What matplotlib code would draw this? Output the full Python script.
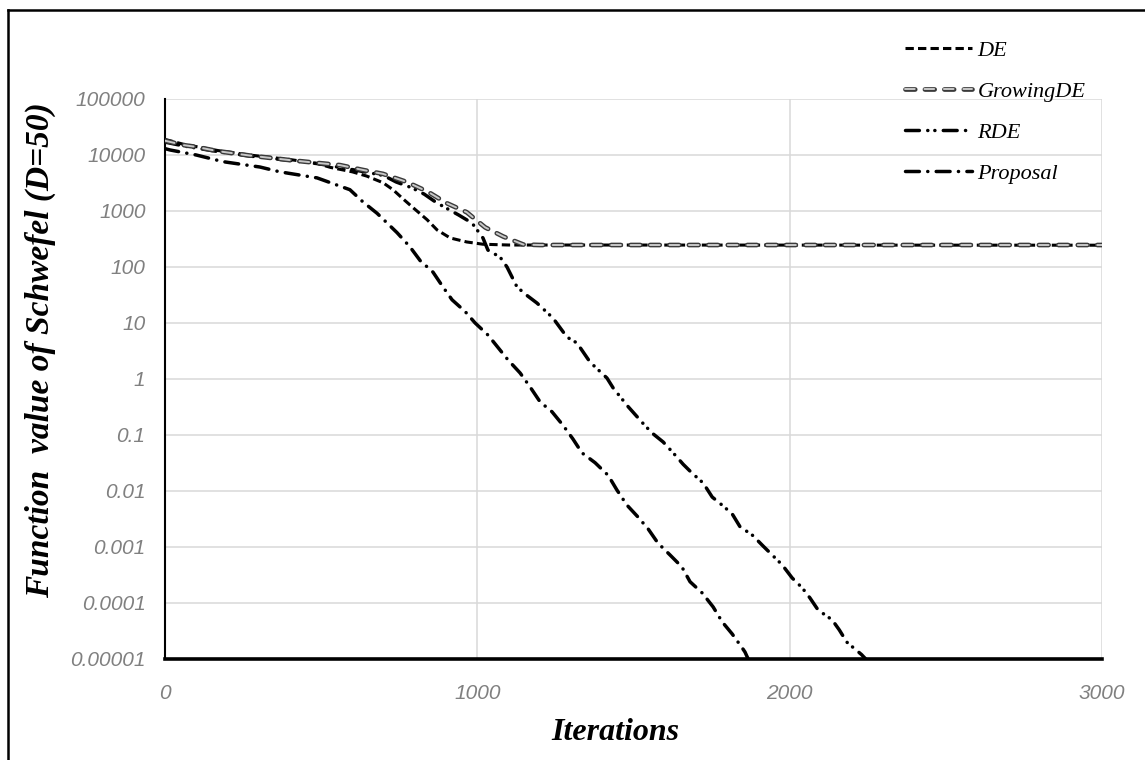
import matplotlib
matplotlib.use("Agg")
import matplotlib.pyplot as plt
import matplotlib.patheffects as pe
from matplotlib.lines import Line2D
from matplotlib.font_manager import FontProperties

plt.rcParams['lines.scale_dashes'] = False

# Iteration / best value
de_it = [0, 60, 170, 270, 400, 490, 530, 600, 646, 698, 730, 762, 794, 839, 871,
         913, 966, 1018, 1100, 3000]
de_val = [19000, 15500, 12000, 10000, 8300, 7000, 6000, 5000, 4200, 3200, 2400,
          1650, 1150, 700, 460, 330, 280, 255, 247, 245]

gde_it = [0, 60, 102, 170, 270, 400, 490, 560, 634, 698, 774, 842, 902, 966,
          1025, 1083, 1147, 1200, 3000]
gde_val = [18000, 15000, 13900, 11700, 9800, 8100, 7200, 6600, 5400, 4600, 3300,
           2200, 1380, 950, 510, 350, 252, 247, 247]

rde_it = [0, 60, 170, 270, 400, 490, 560, 640, 700, 740, 790, 830, 870, 940,
          983, 1018, 1034, 1073, 1095, 1127, 1159, 1191, 1242, 1287, 1319, 1361,
          1415, 1435, 1483, 1531, 1559, 1595, 1627, 1659, 1687, 1723, 1752, 1787,
          1816, 1841, 1880, 1915, 1944, 1976, 2008, 2040, 2065, 2091, 2136, 2159,
          2183, 2230, 2260]
rde_val = [17000, 14500, 11500, 9600, 8000, 7000, 6000, 5000, 4300, 3300, 2600,
           2000, 1400, 850, 610, 330, 200, 150, 100, 44, 31, 22.7, 12.3, 5.6, 4.4,
           2.0, 1.04, 0.69, 0.32, 0.16, 0.109, 0.075, 0.048, 0.030, 0.021, 0.0139,
           0.0078, 0.0054, 0.0039, 0.0023, 0.00164, 0.00104, 0.00072, 0.00048,
           0.00028, 0.000187, 0.000123, 0.000075, 0.00005, 0.000033, 0.00002,
           0.000012, 0.000008]

prop_it = [0, 16, 100, 186, 304, 368, 487, 592, 634, 679, 743, 784, 817, 858,
           890, 919, 961, 993, 1034, 1098, 1137, 1169, 1201, 1239, 1274, 1306,
           1335, 1377, 1419, 1447, 1479, 1515, 1547, 1578, 1617, 1655, 1681, 1720,
           1755, 1784, 1816, 1848, 1857, 1875]
prop_val = [13000, 12300, 10000, 7600, 6100, 5000, 3900, 2400, 1450, 910, 410,
            230, 130, 81, 44, 26, 16, 10, 6.1, 2.2, 1.28, 0.72, 0.39, 0.26, 0.15,
            0.085, 0.048, 0.032, 0.019, 0.0104, 0.0056, 0.0034, 0.0021, 0.00118,
            0.00072, 0.00044, 0.00024, 0.000151, 0.000085, 0.000046, 0.000028,
            0.0000158, 0.0000133, 0.000008]

y_ticks = [1e-5, 1e-4, 1e-3, 1e-2, 1e-1, 1, 10, 100, 1000, 10000, 100000]
y_labels = ['0.00001', '0.0001', '0.001', '0.01', '0.1', '1', '10', '100',
            '1000', '10000', '100000']
x_ticks = [0, 1000, 2000, 3000]

fig = plt.figure(figsize=(11.45, 7.6), dpi=100)
ax = fig.add_axes([165 / 1145, 1 - 659 / 760, (1102 - 165) / 1145, (659 - 99) / 760])

ax.plot(de_it, de_val, color='black', lw=2.2, dashes=(6, 3), label='DE', zorder=3)
ax.plot(gde_it, gde_val, color='#c8c8c8', lw=1.4, dashes=(7, 7),
        dash_capstyle='round', label='GrowingDE', zorder=4,
        path_effects=[pe.Stroke(linewidth=3.4, foreground='#3a3a3a'), pe.Normal()])
ax.plot(rde_it, rde_val, color='black', lw=2.5, dashes=(10, 6, 0.1, 5, 0.1, 6),
        dash_capstyle='round', label='RDE', zorder=3)
ax.plot(prop_it, prop_val, color='black', lw=2.5, dashes=(10, 6, 0.1, 6),
        dash_capstyle='round', label='Proposal', zorder=3)

ax.set_yscale('log')
ax.set_ylim(1e-5, 1e5)
ax.set_xlim(0, 3000)
ax.set_yticks(y_ticks)
ax.set_yticklabels(y_labels)
ax.minorticks_off()
ax.set_xticks(x_ticks)

ax.grid(True, color='#d9d9d9', lw=1.1)
ax.set_axisbelow(True)
for s in ['top', 'right']:
    ax.spines[s].set_visible(False)
ax.spines['left'].set_linewidth(1.5)
ax.spines['bottom'].set_linewidth(2.6)

tick_fp = FontProperties(family=['Liberation Sans', 'DejaVu Sans'], style='italic', size=15)
for lab in ax.get_xticklabels() + ax.get_yticklabels():
    lab.set_fontproperties(tick_fp)
    lab.set_color('#808080')
ax.tick_params(axis='y', length=0, pad=14)
ax.tick_params(axis='x', length=0, pad=18)

serif = ['Liberation Serif', 'DejaVu Serif']
fig.text(615 / 1145, 1 - 732 / 760, 'Iterations', family=serif, style='italic',
         weight='bold', size=23, ha='center', va='center')
fig.text(40 / 1145, 1 - 350 / 760, 'Function  value of Schwefel (D=50)',
         family=serif, style='italic', weight='bold', size=24,
         rotation=90, ha='center', va='center')

leg = fig.legend(loc='upper left', bbox_to_anchor=(894 / 1145, 1 - 29 / 760),
                 frameon=False, handlelength=3.0, handletextpad=0.25,
                 labelspacing=0.92, borderpad=0,
                 prop=dict(family=serif, style='italic', size=16))

# Frame around the figure (left and top edges are visible)
fig.add_artist(Line2D([8 / 1145, 8 / 1145], [0, 1 - 10 / 760], color='black', lw=1.8))
fig.add_artist(Line2D([8 / 1145, 1], [1 - 10 / 760, 1 - 10 / 760], color='black', lw=1.8))

fig.savefig('out.png', dpi=100)
